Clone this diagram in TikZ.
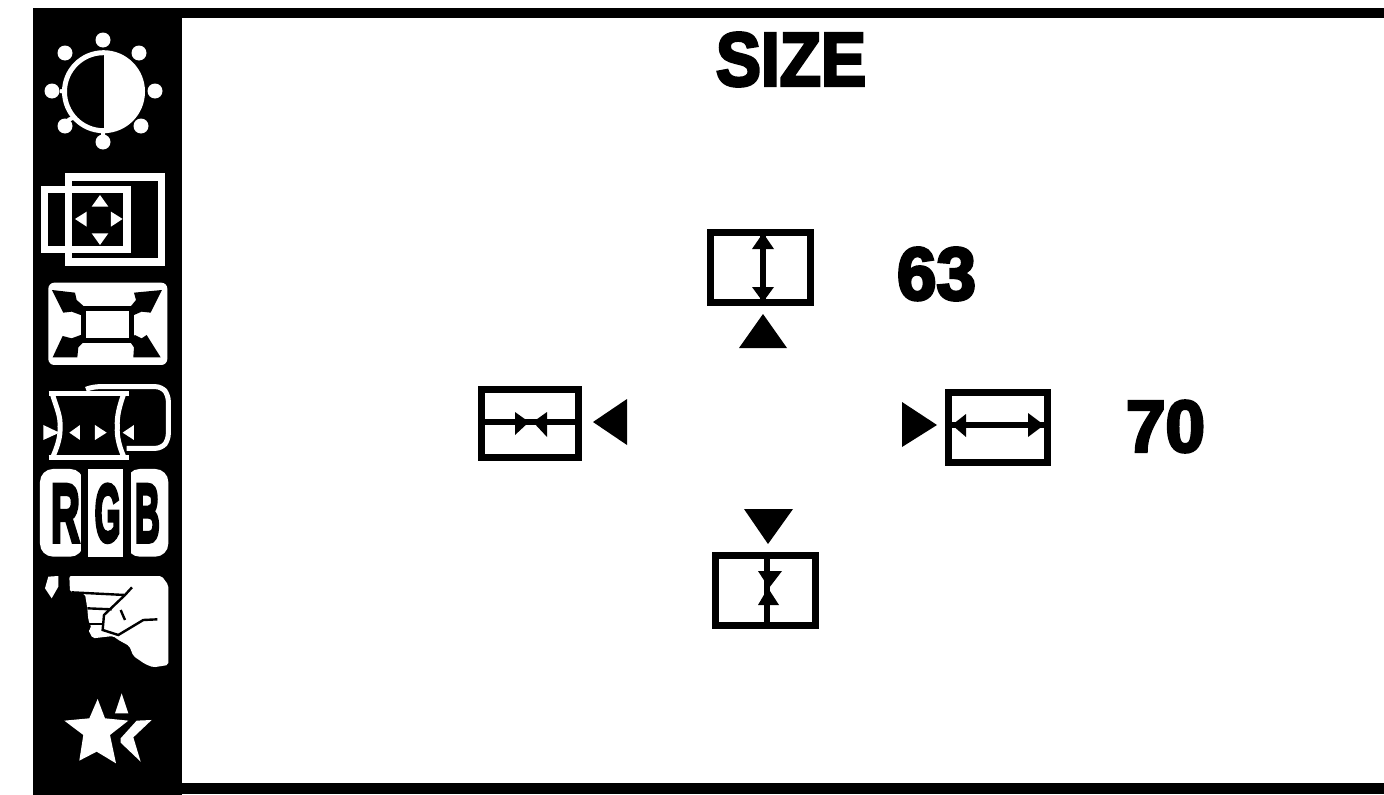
\documentclass[tikz,border=0pt]{standalone}
\usepackage{graphicx}
\usepackage{fontspec}
\newfontfamily\heavy[FakeBold=4]{Liberation Sans Bold}
\newfontfamily\midheavy[FakeBold=5]{Liberation Sans Bold}
\newcommand{\fit}[3]{\resizebox{#1pt}{#2pt}{#3}}
\tikzset{
  px/.style={x=1pt,y=-1pt},
  zm/.style={shift={#1},x=0.3333pt,y=-0.3333pt},
  frame/.style={draw=black,line width=7.5pt,fill=white},
  stem/.style={draw=black,line width=6.5pt},
  wline/.style={draw=white,line width=7.5pt},
  thin white/.style={draw=white,line width=5pt},
  handline/.style={draw=black,line width=2.4pt},
  label/.style={inner sep=0pt,outer sep=0pt,text=black},
  rgblabel/.style={inner sep=0pt,outer sep=0pt,text=black}
}
\begin{document}
\begin{tikzpicture}[px]
\useasboundingbox (0,0) rectangle (1384,795);
\fill[white] (0,0) rectangle (1384,795);
% frame
\fill[black] (33,8) rectangle (1384,18);
\fill[black] (33,8) rectangle (182,795);
\fill[black] (182,783) rectangle (1384,794);

% sun
\draw[thin white] (103.5,91.7) circle (39);
\fill[white] (104,52.7) arc (-90:90:39) -- cycle;
\foreach \a/\b in {103/40,139/53,155/91,141/126,103/142,65/126,52/91,65/53}
  \fill[white] (\a,\b) circle (7.5);
\draw[white,line width=4pt] (60,91) -- (66,92) (68,120) -- (75,117) (103,135) -- (103,130);

% position icon
\begin{scope}[zm={(30,0)}]
  \draw[wline] (116,531) rectangle (394,786);
  \draw[wline] (44,569) rectangle (291,749);
  \fill[white] (210,585) -- (185,620) -- (235,620) -- cycle;
  \fill[white] (135,657) -- (170,635) -- (170,680) -- cycle;
  \fill[white] (278,657) -- (243,635) -- (243,680) -- cycle;
  \fill[white] (210,735) -- (185,700) -- (235,700) -- cycle;
\end{scope}

% expand icon, distortion icon, RGB
\begin{scope}[zm={(30,270)}]
  \fill[white,rounded corners=6pt] (55,38) rectangle (412,285);
  \draw[black,line width=5pt] (160,117) rectangle (305,212);
  \fill[black] (66,60) -- (135,68) -- (140,90) -- (165,112) -- (152,135) -- (125,125) -- (100,128) -- cycle;
  \fill[black] (396,60) -- (312,68) -- (318,90) -- (300,112) -- (312,135) -- (335,125) -- (362,128) -- cycle;
  \fill[black] (68,262) -- (142,262) -- (145,232) -- (165,212) -- (152,195) -- (125,205) -- (98,198) -- cycle;
  \fill[black] (392,262) -- (310,262) -- (312,232) -- (298,212) -- (315,195) -- (335,205) -- (350,195) -- cycle;

  \draw[white,line width=5pt,rounded corners=6pt] (168,358) -- (190,350) -- (395,350) -- (415,375) -- (415,510) -- (395,535) -- (290,535);
  \draw[white,line width=5pt] (56,372) -- (296,372);
  \draw[white,line width=5pt] (56,563) -- (296,563);
  \draw[white,line width=5pt] (68,375) .. controls (82,420) and (92,440) .. (90,470) .. controls (92,500) and (82,530) .. (68,562);
  \draw[white,line width=5pt] (280,375) .. controls (268,410) and (260,440) .. (262,470) .. controls (260,500) and (268,530) .. (282,562);
  \fill[white] (40,465) -- (88,488) -- (40,510) -- cycle;
  \fill[white] (118,488) -- (150,465) -- (150,510) -- cycle;
  \fill[white] (195,465) -- (230,488) -- (195,510) -- cycle;
  \fill[white] (278,488) -- (312,465) -- (312,510) -- cycle;

  \fill[white,rounded corners=13pt] (30,597) -- (160,597) -- (160,860) -- (30,860) -- cycle;
  \fill[white] (175,597) rectangle (280,860);
  \fill[white,rounded corners=13pt] (290,597) -- (415,597) -- (415,860) -- (290,860) -- cycle;
  \fill[black] (152,590) rectangle (175,865);
  \fill[black] (280,590) rectangle (302,865);
  \node[rgblabel] (rgbR) at (106,730) {\fit{29}{57}{\midheavy R}};
  \node[rgblabel] (rgbG) at (233,730) {\fit{26}{57}{\midheavy G}};
  \node[rgblabel] (rgbB) at (352,730) {\fit{25}{57}{\midheavy B}};
\end{scope}

% hand and star
\begin{scope}[zm={(30,550)}]
  \fill[white] (55,80) -- (85,78) -- (85,110) -- (65,145) -- (45,115) -- cycle;
  \fill[white,rounded corners=2pt] (118,78) -- (395,78) -- (415,105) -- (415,345) -- (370,352) -- (345,342) -- (310,318) -- (298,288) -- (262,268) -- (250,258) -- (188,265) -- (175,240) -- (185,235) -- (175,210) -- (172,175) -- (165,132) -- (120,126) -- cycle;
  \draw[handline] (125,127) -- (285,135) -- (306,112);
  \draw[handline] (172,175) -- (245,178);
  \draw[handline] (176,222) -- (218,222);
  \draw[handline] (285,135) -- (222,195) -- (218,240) -- (265,255) -- (340,210) -- (382,208);
  \draw[handline] (272,180) -- (285,210);
  \fill[white] (203,447) -- (225,505) -- (295,512) -- (240,555) -- (258,640) -- (200,605) -- (148,632) -- (160,555) -- (103,512) -- (178,505) -- cycle;
  \fill[white] (275,430) -- (295,490) -- (255,490) -- cycle;
  \fill[white] (365,510) -- (310,562) -- (332,635) -- (272,578) -- (272,565) -- (320,512) -- cycle;
\end{scope}

% title and values
\node[label] (title) at (791,59.5) {\fit{150}{53}{\heavy SIZE}};
\node[label] (v63) at (936.5,274) {\fit{79}{52}{\heavy 63}};
\node[label] (v70) at (1165.5,426.5) {\fit{79}{51}{\heavy 70}};

% up
\draw[frame] (710.7,232.7) rectangle (810.3,302.3);
\draw[stem] (763,234) -- (763,302);
\fill[black] (763,233) -- (774,249) -- (752,249) -- cycle;
\fill[black] (763,302) -- (774,287) -- (752,287) -- cycle;
\fill[black] (763,314) -- (787,348) -- (739,348) -- cycle;

% left
\draw[frame] (481.7,389.7) rectangle (578.3,457.3);
\draw[stem] (482,422) -- (578,422);
\fill[black] (515,412) -- (515,435) -- (529,422) -- cycle;
\fill[black] (547,412) -- (547,437) -- (533,422) -- cycle;
\fill[black] (593,422) -- (627,399) -- (627,445) -- cycle;

% right
\draw[frame] (948.7,392.7) rectangle (1047.3,462.3);
\draw[stem] (949,425) -- (1047,425);
\fill[black] (952,425) -- (966,414) -- (966,437) -- cycle;
\fill[black] (1044,425) -- (1028,413) -- (1028,437) -- cycle;
\fill[black] (902,402) -- (902,447) -- (937,425) -- cycle;

% down
\draw[frame] (715.7,555.7) rectangle (815.3,625.3);
\draw[stem] (767,556) -- (767,625);
\fill[black] (758,571) -- (782,571) -- (769,588) -- cycle;
\fill[black] (758,605) -- (779,605) -- (768,588) -- cycle;
\fill[black] (744,509) -- (793,509) -- (768,544) -- cycle;
\end{tikzpicture}
\end{document}
